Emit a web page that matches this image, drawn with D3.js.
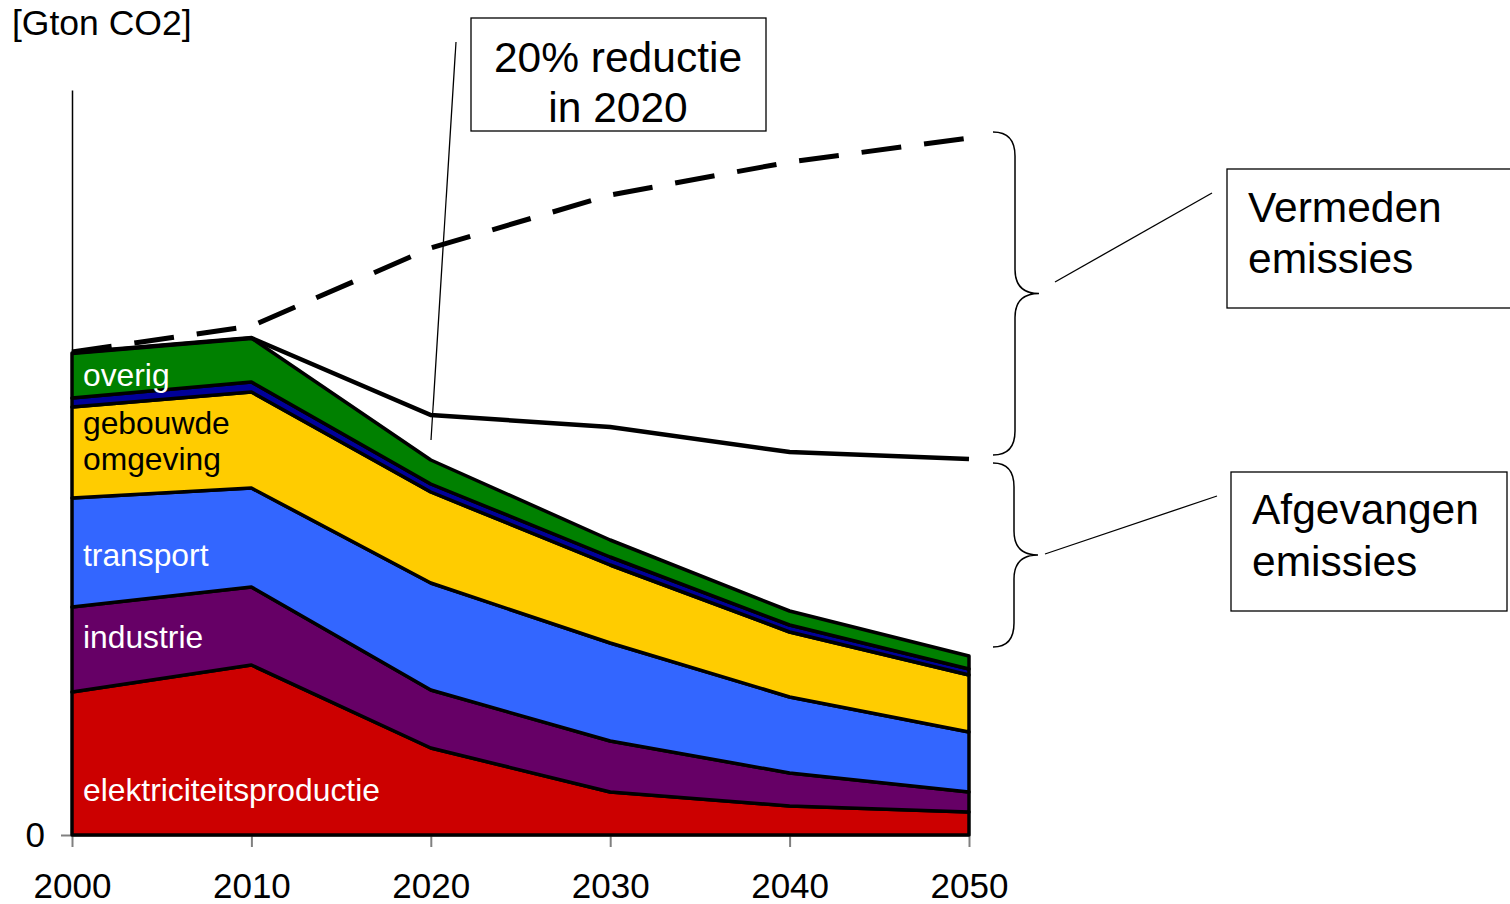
<!DOCTYPE html>
<html>
<head>
<meta charset="utf-8">
<script src="https://cdn.jsdelivr.net/npm/d3@7"></script>
<style>
  body { margin: 0; background: #fff; }
  svg { display: block; font-family: "Liberation Sans", Arial, sans-serif; }
</style>
</head>
<body>
<svg id="chart" width="1510" height="904"></svg>
<script>
// jaren en emissies per sector [Gton CO2]
const years = [2000, 2010, 2020, 2030, 2040, 2050];
const elektriciteit = [7.15, 8.5, 4.35, 2.15, 1.45, 1.15];
const industrie = [4.25, 3.9, 2.9, 2.55, 1.65, 1.0];
const transport = [5.45, 4.95, 5.35, 4.9, 3.8, 3.0];
const gebouwd = [4.55, 4.8, 4.55, 3.9, 3.25, 2.85];
const landbouw = [0.45, 0.5, 0.4, 0.4, 0.35, 0.3];
const overig = [2.25, 2.2, 1.2, 0.85, 0.7, 0.65];
// referentiepad (gestippeld) en pad met beleid (doorgetrokken)
const referentie = [24.15, 25.45, 29.35, 32.0, 33.65, 34.85];
const metBeleid = [24.1, 24.85, 21.0, 20.4, 19.15, 18.8];

const keys = ["elektriciteit", "industrie", "transport", "gebouwd", "landbouw", "overig"];
const colors = {
  elektriciteit: "#cc0000", industrie: "#660066", transport: "#3366ff",
  gebouwd: "#ffcc00", landbouw: "#000099", overig: "#008000"
};
const series = {elektriciteit, industrie, transport, gebouwd, landbouw, overig};
const table = years.map((yr, i) => {
  const row = {year: yr};
  keys.forEach(k => row[k] = series[k][i]);
  return row;
});

const svg = d3.select("#chart");
const x = d3.scaleLinear().domain([2000, 2050]).range([72, 969]);
const y = d3.scaleLinear().domain([0, 37.25]).range([835, 90]);

// assen
const xAxis = svg.append("g")
  .attr("transform", `translate(0,${y(0)})`)
  .call(d3.axisBottom(x).tickValues(years).tickFormat(d3.format("d"))
    .tickSizeInner(12).tickSizeOuter(0).tickPadding(26));
xAxis.select(".domain").attr("stroke", "#808080").attr("stroke-width", 2);
xAxis.selectAll(".tick line").attr("stroke", "#808080").attr("stroke-width", 2);
xAxis.selectAll(".tick text").attr("font-size", 35).attr("fill", "#000")
  .attr("font-family", "Liberation Sans, Arial, sans-serif");

const yAxis = svg.append("g")
  .attr("transform", `translate(${x(2000)},0)`)
  .call(d3.axisLeft(y).tickValues([0]).tickSizeInner(11).tickSizeOuter(0).tickPadding(16));
yAxis.select(".domain").attr("stroke", "#000").attr("stroke-width", 1.5);
yAxis.selectAll(".tick line").attr("stroke", "#808080").attr("stroke-width", 2);
yAxis.selectAll(".tick text").attr("font-size", 35).attr("fill", "#000")
  .attr("font-family", "Liberation Sans, Arial, sans-serif");

// gestapelde vlakken
const stacked = d3.stack().keys(keys)(table);
const area = d3.area()
  .x(d => x(d.data.year))
  .y0(d => y(d[0]))
  .y1(d => y(d[1]));

svg.append("g").selectAll("path")
  .data(stacked)
  .join("path")
  .attr("d", area)
  .attr("fill", d => colors[d.key])
  .attr("stroke", "#000")
  .attr("stroke-width", 3.5)
  .attr("stroke-linejoin", "round");

const line = d3.line().x((d, i) => x(years[i])).y(d => y(d));

svg.append("path")
  .attr("d", line(metBeleid))
  .attr("fill", "none")
  .attr("stroke", "#000")
  .attr("stroke-width", 4.5);

svg.append("path")
  .attr("d", line(referentie))
  .attr("fill", "none")
  .attr("stroke", "#000")
  .attr("stroke-width", 5)
  .attr("stroke-dasharray", "40,23");

// labels in de vlakken
const labels = [
  {text: "overig", y: 386, fill: "#fff"},
  {text: "gebouwde", y: 434, fill: "#000"},
  {text: "omgeving", y: 470, fill: "#000"},
  {text: "transport", y: 566, fill: "#fff"},
  {text: "industrie", y: 648, fill: "#fff"},
  {text: "elektriciteitsproductie", y: 801, fill: "#fff"}
];
svg.append("g").selectAll("text")
  .data(labels)
  .join("text")
  .attr("x", 83)
  .attr("y", d => d.y)
  .attr("fill", d => d.fill)
  .attr("font-size", 31.8)
  .text(d => d.text);

svg.append("text")
  .attr("x", 12).attr("y", 35)
  .attr("font-size", 35.5)
  .text("[Gton CO2]");

// annotaties
function brace(x0, xm, xt, y0, y1, r) {
  const ym = (y0 + y1) / 2;
  return `M${x0},${y0} Q${xm},${y0} ${xm},${y0 + r} L${xm},${ym - r} ` +
    `Q${xm},${ym} ${xt},${ym} Q${xm},${ym} ${xm},${ym + r} ` +
    `L${xm},${y1 - r} Q${xm},${y1} ${x0},${y1}`;
}
const ann = svg.append("g").attr("fill", "none").attr("stroke", "#000");
ann.append("path").attr("d", brace(993, 1015, 1039, 132, 455, 24)).attr("stroke-width", 1.5);
ann.append("path").attr("d", brace(993, 1014, 1038, 463, 647, 24)).attr("stroke-width", 1.5);
ann.append("line").attr("x1", 1055).attr("y1", 282).attr("x2", 1212).attr("y2", 193).attr("stroke-width", 1.3);
ann.append("line").attr("x1", 1045).attr("y1", 554).attr("x2", 1217).attr("y2", 496).attr("stroke-width", 1.3);
ann.append("line").attr("x1", 456).attr("y1", 42).attr("x2", 431).attr("y2", 440).attr("stroke-width", 1.3);

const boxes = [
  {x: 471, y: 18, w: 295, h: 113, lines: ["20% reductie", "in 2020"], anchor: "middle", tx: 618, ty: [72, 122]},
  {x: 1227, y: 169, w: 290, h: 139, lines: ["Vermeden", "emissies"], anchor: "start", tx: 1248, ty: [222, 273]},
  {x: 1231, y: 472, w: 276, h: 139, lines: ["Afgevangen", "emissies"], anchor: "start", tx: 1252, ty: [524, 576]}
];
boxes.forEach(b => {
  svg.append("rect")
    .attr("x", b.x).attr("y", b.y).attr("width", b.w).attr("height", b.h)
    .attr("fill", "#fff").attr("stroke", "#000").attr("stroke-width", 1.3);
  b.lines.forEach((t, i) => {
    svg.append("text")
      .attr("x", b.tx).attr("y", b.ty[i])
      .attr("text-anchor", b.anchor)
      .attr("font-size", 42.5)
      .text(t);
  });
});
</script>
</body>
</html>
